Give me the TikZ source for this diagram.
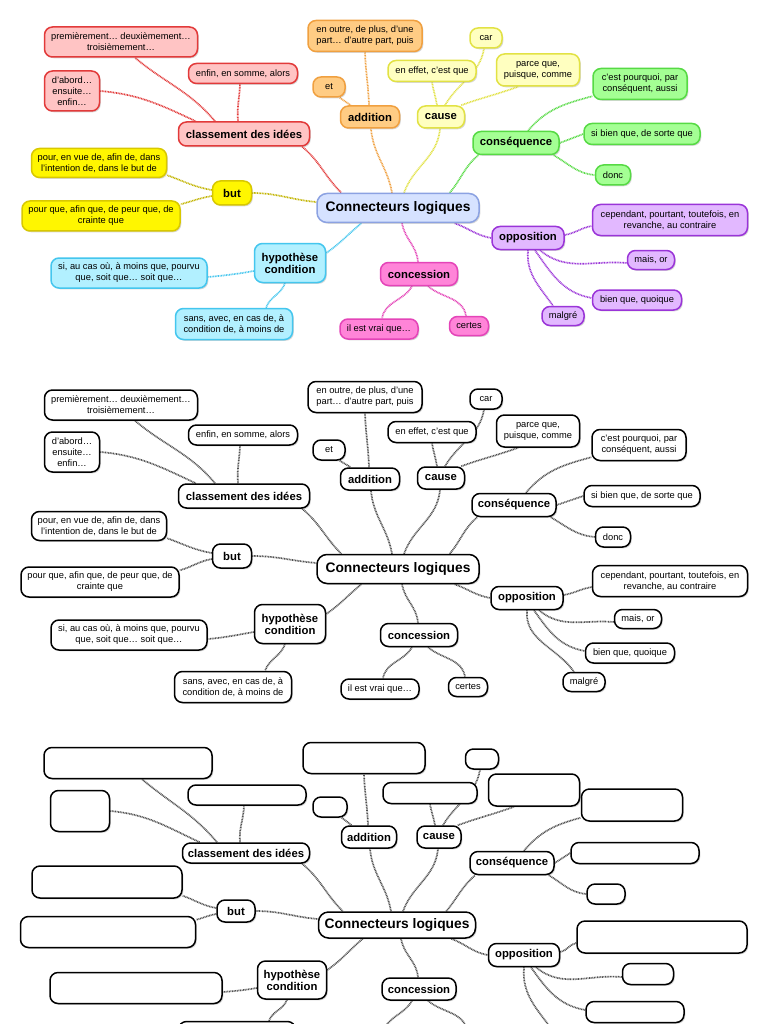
\documentclass[tikz,border=0pt]{standalone}
\usepackage{fontspec}
\setmainfont{Liberation Sans}
\usetikzlibrary{shadows,backgrounds}
\pgfdeclarelayer{bg}
\pgfsetlayers{bg,background,main}
\definecolor{cFill}{HTML}{D6E2FF}\definecolor{cLine}{HTML}{8CA2E2}
\definecolor{rFill}{HTML}{FFC4C4}\definecolor{rLine}{HTML}{E23A3A}
\definecolor{oFill}{HTML}{FFCC84}\definecolor{oLine}{HTML}{F0A040}
\definecolor{yFill}{HTML}{FFFFC0}\definecolor{yLine}{HTML}{E2E244}
\definecolor{gFill}{HTML}{A4FF94}\definecolor{gLine}{HTML}{56DA44}
\definecolor{pFill}{HTML}{E2B8FF}\definecolor{pLine}{HTML}{9A34D8}
\definecolor{mFill}{HTML}{FF84D8}\definecolor{mLine}{HTML}{E444B8}
\definecolor{bFill}{HTML}{B2F0FF}\definecolor{bLine}{HTML}{44C6EE}
\definecolor{uFill}{HTML}{FFF600}\definecolor{uLine}{HTML}{D8C800}
\definecolor{linkGray}{HTML}{505050}
\tikzset{
 box/.style={draw, rounded corners=8pt, line width=1.5pt, align=center, inner sep=1pt, text=black,
   drop shadow={opacity=0.3,shadow xshift=1.3pt,shadow yshift=-1.3pt}},
 leaf/.style={box, font=\fontsize{9.3}{11}\selectfont},
 cat/.style={box, font=\bfseries\fontsize{11.3}{12}\selectfont},
 ctr/.style={box, font=\bfseries\fontsize{13.8}{15}\selectfont, rounded corners=10pt},
 wh/.style 2 args={minimum width=#1pt, minimum height=#2pt},
 link/.style={line width=1.7pt, dash pattern=on 0.9pt off 0.7pt},
 pal1/.style={
  gC/.style={fill=cFill,draw=cLine}, gR/.style={fill=rFill,draw=rLine},
  gO/.style={fill=oFill,draw=oLine}, gY/.style={fill=yFill,draw=yLine},
  gG/.style={fill=gFill,draw=gLine}, gP/.style={fill=pFill,draw=pLine},
  gM/.style={fill=mFill,draw=mLine}, gB/.style={fill=bFill,draw=bLine},
  gU/.style={fill=uFill,draw=uLine},
  eR/.style={link,draw=rLine}, eO/.style={link,draw=oLine}, eY/.style={link,draw=yLine},
  eG/.style={link,draw=gLine}, eP/.style={link,draw=pLine}, eM/.style={link,draw=mLine},
  eB/.style={link,draw=bLine}, eU/.style={link,draw=uLine!90!black}},
 pal0/.style={
  gC/.style={fill=white,draw=black}, gR/.style={fill=white,draw=black},
  gO/.style={fill=white,draw=black}, gY/.style={fill=white,draw=black},
  gG/.style={fill=white,draw=black}, gP/.style={fill=white,draw=black},
  gM/.style={fill=white,draw=black}, gB/.style={fill=white,draw=black},
  gU/.style={fill=white,draw=black},
  eR/.style={link,draw=linkGray}, eO/.style={link,draw=linkGray}, eY/.style={link,draw=linkGray},
  eG/.style={link,draw=linkGray}, eP/.style={link,draw=linkGray}, eM/.style={link,draw=linkGray},
  eB/.style={link,draw=linkGray}, eU/.style={link,draw=linkGray}},
}
\newcommand\mapedges[1]{%
\begin{scope}[on background layer]
\draw[eR] ([xshift=-8pt]#1cl.south east) to[out=-40,in=135] ([xshift=25pt]#1c.north west);
\draw[eR] ([xshift=-29pt]#1cl.north) to[out=130,in=-40] ([xshift=14pt]#1p1.south);
\draw[eR] ([xshift=-6pt]#1cl.north) to[out=95,in=-92] ([xshift=-3pt]#1enf.south);
\draw[eR] (#1dab.east) to[out=-5,in=155] ([xshift=18pt]#1cl.north west);
\draw[eO] ([xshift=-6pt]#1c.north) to[out=100,in=-85] ([xshift=1pt]#1add.south);
\draw[eO] ([xshift=-1pt]#1add.north) to[out=92,in=-88] (#1outre.south);
\draw[eO] ([xshift=-6pt]#1et.south east) -- ([xshift=11pt]#1add.north west);
\draw[eY] ([xshift=6pt]#1c.north) to[out=70,in=-95] ([xshift=-1pt]#1cau.south);
\draw[eY] ([xshift=-4pt]#1cau.north) to[out=100,in=-80] (#1eff.south);
\draw[eY] ([xshift=4pt]#1cau.north) to[out=60,in=-100] ([xshift=-2pt]#1car.south);
\draw[eY] ([xshift=-4pt]#1cau.north east) to[out=20,in=-160] ([xshift=-20pt]#1parce.south);
\draw[eG] ([xshift=-30pt]#1c.north east) to[out=50,in=-140] ([xshift=6pt]#1cons.south west);
\draw[eG] ([xshift=12pt]#1cons.north) to[out=50,in=-165] ([yshift=4pt]#1pourq.south west);
\draw[eG] (#1cons.east) -- (#1sibien.west);
\draw[eG] ([xshift=-6pt]#1cons.south east) to[out=-30,in=175] (#1donc.west);
\draw[eP] ([xshift=-25pt]#1c.south east) to[out=-20,in=170] (#1opp.west);
\draw[eP] ([yshift=3pt]#1opp.east) to[out=10,in=-170] ([yshift=-6pt]#1cep.west);
\draw[eP] ([xshift=12pt]#1opp.south) to[out=-40,in=175] ([yshift=-3pt]#1mais.west);
\draw[eP] ([xshift=7pt]#1opp.south) to[out=-55,in=170] ([yshift=2pt]#1bien.west);
\draw[eP] (#1opp.south) to[out=-95,in=125] ([xshift=-10pt]#1malg.north);
\draw[eM] ([xshift=4pt]#1c.south) to[out=-80,in=95] ([xshift=-1pt]#1conc.north);
\draw[eM] ([xshift=-7pt]#1conc.south) to[out=-120,in=80] ([xshift=3pt]#1vrai.north);
\draw[eM] ([xshift=9pt]#1conc.south) to[out=-40,in=100] ([xshift=-3pt]#1certes.north);
\draw[eB] ([xshift=45pt]#1c.south west) to[out=-140,in=35] ([yshift=10pt]#1hyp.east);
\draw[eB] ([yshift=-8pt]#1hyp.west) to[out=-170,in=5] ([yshift=-4pt]#1si.east);
\draw[eB] ([xshift=-5pt]#1hyp.south) to[out=-110,in=70] ([xshift=32pt]#1sans.north);
\draw[eU] (#1but.east) to[out=0,in=175] ([yshift=6pt]#1c.west);
\draw[eU] ([yshift=3pt]#1but.west) to[out=170,in=-20] ([yshift=3pt]#1pour.south east);
\draw[eU] ([yshift=-3pt]#1but.west) to[out=-170,in=15] ([yshift=-4pt]#1pourque.north east);
\end{scope}}
\begin{document}
\begin{tikzpicture}[x=1pt,y=1pt]
\useasboundingbox (0,0) rectangle (768,-1024);
\begin{pgfonlayer}{bg}\fill[white] (0,0) rectangle (768,-1024);\end{pgfonlayer}
% ---------- panel 1 (colour)
\begin{scope}[pal1]
\node[ctr,gC,wh={162}{29}] (ac) at (398,-208) {Connecteurs logiques};
\node[cat,gR,wh={131}{24}] (acl) at (244,-134) {classement des idées};
\node[leaf,gR,wh={153}{30}] (ap1) at (121,-42) {premièrement… deuxièmement…\\troisièmement…};
\node[leaf,gR,wh={109}{20}] (aenf) at (243,-73.5) {enfin, en somme, alors};
\node[leaf,gR,wh={55}{40}] (adab) at (72,-91) {d'abord…\\ensuite…\\enfin…};
\node[cat,gO,wh={59}{22}] (aadd) at (370,-117) {addition};
\node[leaf,gO,wh={114}{31}] (aoutre) at (365,-36) {en outre, de plus, d'une\\part… d'autre part, puis};
\node[leaf,gO,wh={32}{20}] (aet) at (329,-87) {et};
\node[cat,gY,wh={47}{22}] (acau) at (441,-117) {cause};
\node[leaf,gY,wh={88}{21}] (aeff) at (432,-71) {en effet, c'est que};
\node[leaf,gY,wh={32}{20}] (acar) at (486,-38) {car};
\node[leaf,gY,wh={83}{32}] (aparce) at (538,-70) {parce que,\\puisque, comme};
\node[cat,gG,wh={86}{23}] (acons) at (516,-143) {conséquence};
\node[leaf,gG,wh={94}{31}] (apourq) at (640,-84) {c'est pourquoi, par\\conséquent, aussi};
\node[leaf,gG,wh={116}{21}] (asibien) at (642,-134) {si bien que, de sorte que};
\node[leaf,gG,wh={35}{20}] (adonc) at (613,-175) {donc};
\node[cat,gP,wh={72}{23}] (aopp) at (528,-238) {opposition};
\node[leaf,gP,wh={155}{31}] (acep) at (670,-220) {cependant, pourtant, toutefois, en\\revanche, au contraire};
\node[leaf,gP,wh={47}{19}] (amais) at (651,-260) {mais, or};
\node[leaf,gP,wh={89}{20}] (abien) at (637,-300) {bien que, quoique};
\node[leaf,gP,wh={42}{19}] (amalg) at (563,-316) {malgré};
\node[cat,gM,wh={77}{23}] (aconc) at (419,-274) {concession};
\node[leaf,gM,wh={78}{20}] (avrai) at (379,-329) {il est vrai que…};
\node[leaf,gM,wh={39}{19}] (acertes) at (469,-326) {certes};
\node[cat,gB,wh={71}{39}] (ahyp) at (290,-263) {hypothèse\\condition};
\node[leaf,gB,wh={156}{30}] (asi) at (129,-273) {si, au cas où, à moins que, pourvu\\que, soit que… soit que…};
\node[leaf,gB,wh={117}{31}] (asans) at (234,-324) {sans, avec, en cas de, à\\condition de, à moins de};
\node[cat,gU,wh={39}{24}] (abut) at (232,-193) {but};
\node[leaf,gU,wh={135}{29}] (apour) at (99,-163) {pour, en vue de, afin de, dans\\l'intention de, dans le but de};
\node[leaf,gU,wh={158}{30}] (apourque) at (101,-216) {pour que, afin que, de peur que, de\\crainte que};
\mapedges{a}
\end{scope}
% ---------- panel 2 (black and white)
\begin{scope}[pal0]
\node[ctr,gC,wh={162}{29}] (bc) at (398,-569) {Connecteurs logiques};
\node[cat,gR,wh={131}{24}] (bcl) at (244,-496) {classement des idées};
\node[leaf,gR,wh={153}{30}] (bp1) at (121,-405) {premièrement… deuxièmement…\\troisièmement…};
\node[leaf,gR,wh={109}{20}] (benf) at (243,-435) {enfin, en somme, alors};
\node[leaf,gR,wh={55}{40}] (bdab) at (72,-452) {d'abord…\\ensuite…\\enfin…};
\node[cat,gO,wh={59}{22}] (badd) at (370,-479) {addition};
\node[leaf,gO,wh={114}{31}] (boutre) at (365,-397) {en outre, de plus, d'une\\part… d'autre part, puis};
\node[leaf,gO,wh={32}{20}] (bet) at (329,-450) {et};
\node[cat,gY,wh={47}{22}] (bcau) at (441,-478) {cause};
\node[leaf,gY,wh={88}{21}] (beff) at (432,-432) {en effet, c'est que};
\node[leaf,gY,wh={32}{20}] (bcar) at (486,-399) {car};
\node[leaf,gY,wh={83}{32}] (bparce) at (538,-431) {parce que,\\puisque, comme};
\node[cat,gG,wh={84}{23}] (bcons) at (514,-505) {conséquence};
\node[leaf,gG,wh={94}{31}] (bpourq) at (639,-445) {c'est pourquoi, par\\conséquent, aussi};
\node[leaf,gG,wh={116}{21}] (bsibien) at (642,-496) {si bien que, de sorte que};
\node[leaf,gG,wh={35}{20}] (bdonc) at (613,-537) {donc};
\node[cat,gP,wh={72}{23}] (bopp) at (527,-598) {opposition};
\node[leaf,gP,wh={155}{31}] (bcep) at (670,-581) {cependant, pourtant, toutefois, en\\revanche, au contraire};
\node[leaf,gP,wh={47}{19}] (bmais) at (638,-619) {mais, or};
\node[leaf,gP,wh={89}{20}] (bbien) at (630,-653) {bien que, quoique};
\node[leaf,gP,wh={42}{19}] (bmalg) at (584,-682) {malgré};
\node[cat,gM,wh={77}{23}] (bconc) at (419,-635) {concession};
\node[leaf,gM,wh={78}{20}] (bvrai) at (380,-689) {il est vrai que…};
\node[leaf,gM,wh={39}{19}] (bcertes) at (468,-687) {certes};
\node[cat,gB,wh={71}{39}] (bhyp) at (290,-624) {hypothèse\\condition};
\node[leaf,gB,wh={156}{30}] (bsi) at (129,-635) {si, au cas où, à moins que, pourvu\\que, soit que… soit que…};
\node[leaf,gB,wh={117}{31}] (bsans) at (233,-687) {sans, avec, en cas de, à\\condition de, à moins de};
\node[cat,gU,wh={39}{24}] (bbut) at (232,-556) {but};
\node[leaf,gU,wh={135}{29}] (bpour) at (99,-526) {pour, en vue de, afin de, dans\\l'intention de, dans le but de};
\node[leaf,gU,wh={158}{30}] (bpourque) at (100,-582) {pour que, afin que, de peur que, de\\crainte que};
\mapedges{b}
\end{scope}
% ---------- panel 3 (blank exercise)
\begin{scope}[pal0]
\node[ctr,gC,wh={157}{26}] (dc) at (397,-925) {Connecteurs logiques};
\node[cat,gR,wh={127}{20}] (dcl) at (246,-853) {classement des idées};
\node[leaf,gR,wh={168}{31}] (dp1) at (128,-763) {};
\node[leaf,gR,wh={118}{20}] (denf) at (247,-795) {};
\node[leaf,gR,wh={59}{41}] (ddab) at (80,-811) {};
\node[cat,gO,wh={55}{22}] (dadd) at (369,-837) {addition};
\node[leaf,gO,wh={122}{31}] (doutre) at (364,-758) {};
\node[leaf,gO,wh={34}{20}] (det) at (330,-807) {};
\node[cat,gY,wh={44}{22}] (dcau) at (439,-837) {cause};
\node[leaf,gY,wh={94}{21}] (deff) at (430,-793) {};
\node[leaf,gY,wh={33}{20}] (dcar) at (482,-759) {};
\node[leaf,gY,wh={91}{32}] (dparce) at (534,-790) {};
\node[cat,gG,wh={84}{23}] (dcons) at (512,-863) {conséquence};
\node[leaf,gG,wh={101}{32}] (dpourq) at (632,-805) {};
\node[leaf,gG,wh={128}{21}] (dsibien) at (635,-853) {};
\node[leaf,gG,wh={38}{20}] (ddonc) at (606,-894) {};
\node[cat,gP,wh={71}{23}] (dopp) at (524,-955) {opposition};
\node[leaf,gP,wh={170}{32}] (dcep) at (662,-937) {};
\node[leaf,gP,wh={51}{21}] (dmais) at (648,-974) {};
\node[leaf,gP,wh={98}{21}] (dbien) at (635,-1012) {};
\node[leaf,gP,wh={45}{21}] (dmalg) at (565,-1045) {};
\node[cat,gM,wh={74}{22}] (dconc) at (419,-989) {concession};
\node[leaf,gM,wh={80}{21}] (dvrai) at (380,-1045) {};
\node[leaf,gM,wh={40}{21}] (dcertes) at (470,-1042) {};
\node[cat,gB,wh={69}{38}] (dhyp) at (292,-980) {hypothèse\\condition};
\node[leaf,gB,wh={172}{31}] (dsi) at (136,-988) {};
\node[leaf,gB,wh={117}{31}] (dsans) at (237,-1037) {};
\node[cat,gU,wh={38}{22}] (dbut) at (236,-911) {but};
\node[leaf,gU,wh={150}{32}] (dpour) at (107,-882) {};
\node[leaf,gU,wh={175}{31}] (dpourque) at (108,-932) {};
\mapedges{d}
\end{scope}
\end{tikzpicture}
\end{document}
